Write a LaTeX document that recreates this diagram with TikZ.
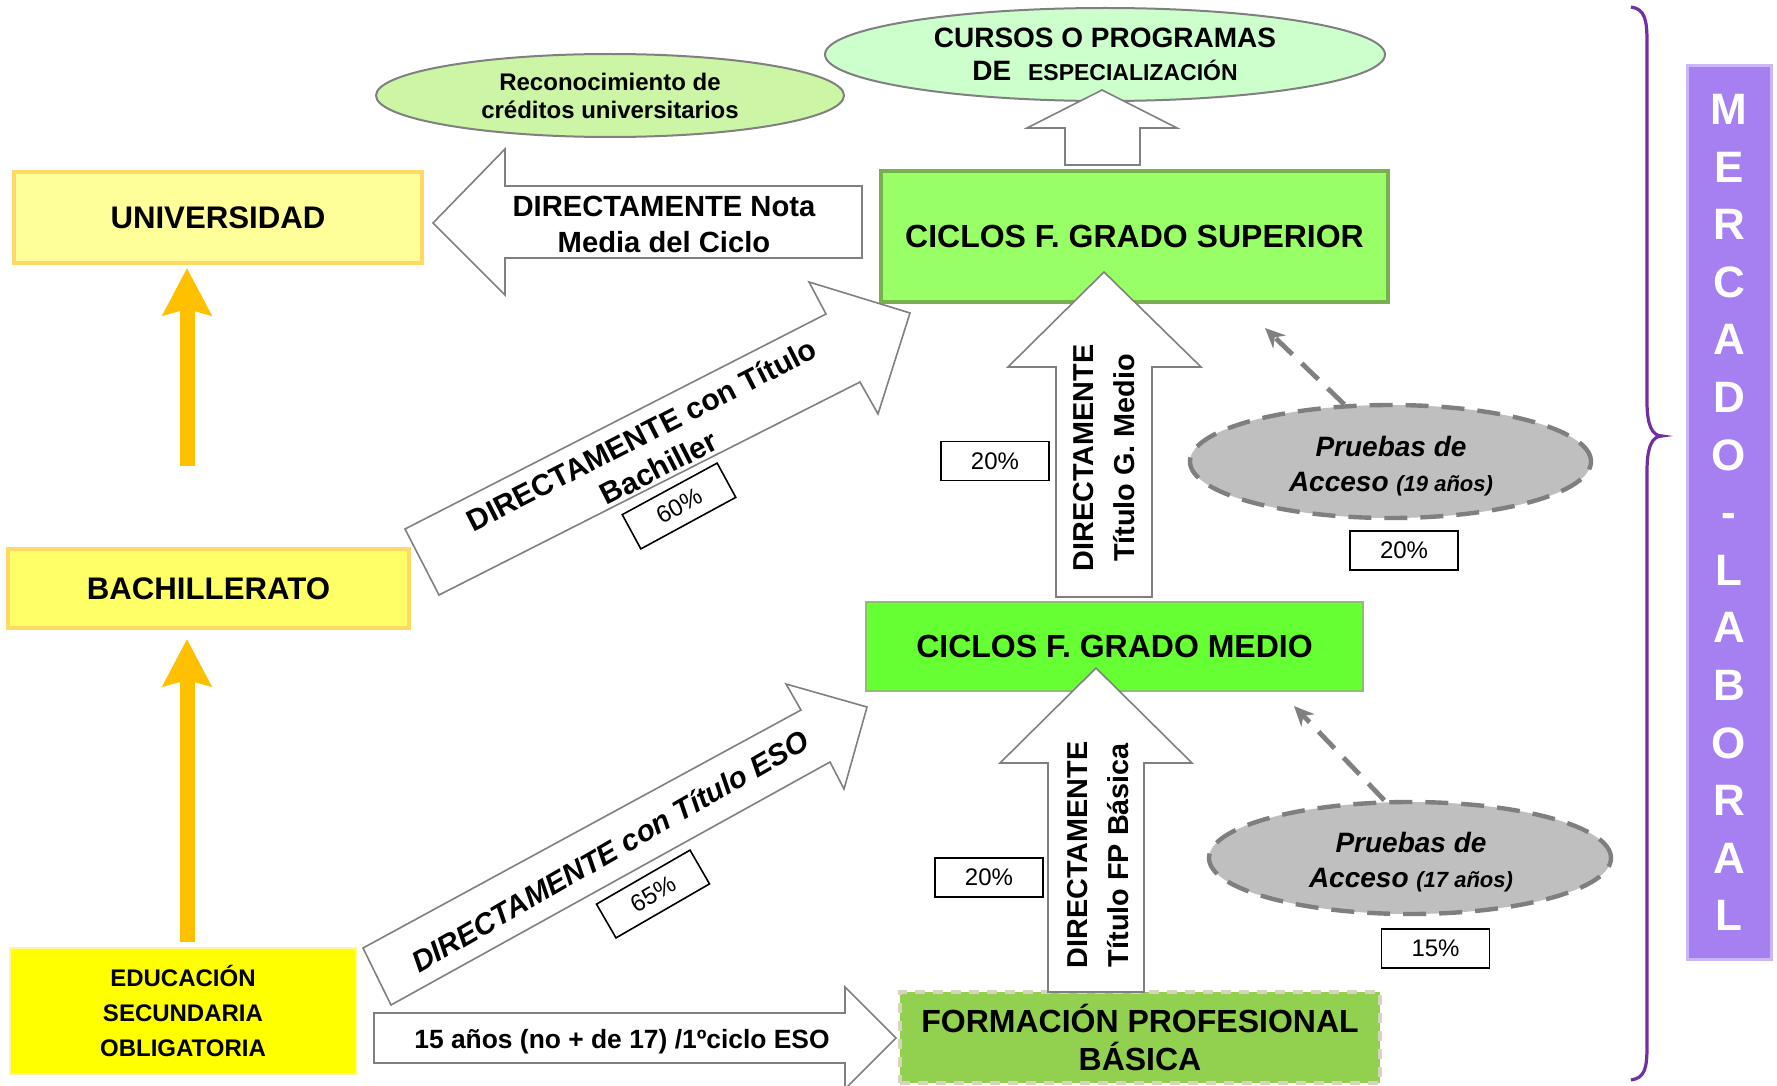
\documentclass[tikz,border=0pt]{standalone}
\usepackage{fontspec}
\setmainfont{Liberation Sans}
\usetikzlibrary{shapes.geometric,arrows.meta,calc}
\definecolor{univfill}{HTML}{FFFF99}
\definecolor{univdraw}{HTML}{FFD966}
\definecolor{bachfill}{HTML}{FFFF66}
\definecolor{esofill}{HTML}{FFFF00}
\definecolor{esodraw}{HTML}{FFF59D}
\definecolor{gsfill}{HTML}{99FF66}
\definecolor{gsdraw}{HTML}{78B04F}
\definecolor{gmfill}{HTML}{66FF33}
\definecolor{gmdraw}{HTML}{8DBF6E}
\definecolor{fpbfill}{HTML}{92D050}
\definecolor{fpbdraw}{HTML}{D9D2C0}
\definecolor{cursosfill}{HTML}{CCFFCC}
\definecolor{reconfill}{HTML}{CCF5A6}
\definecolor{pafill}{HTML}{BFBFBF}
\definecolor{padraw}{HTML}{7F7F7F}
\definecolor{arrowgray}{HTML}{808080}
\definecolor{orangeA}{HTML}{FFC000}
\definecolor{purpleB}{HTML}{7030A0}
\definecolor{mlfill}{HTML}{A67FF0}
\definecolor{mldraw}{HTML}{CBB6F6}
\begin{document}
\begin{tikzpicture}[x=0.5pt,y=-0.5pt,
  every node/.style={inner sep=0pt},
  fbox/.style={rectangle, align=center, font=\fontsize{16}{19}\selectfont\bfseries},
  ybox/.style={rectangle, align=center, font=\fontsize{15.6}{18}\selectfont\bfseries},
  oval/.style={ellipse, draw=arrowgray, line width=1pt, align=center},
  pruebas/.style={ellipse, fill=pafill, draw=padraw, line width=2.2pt, dash pattern=on 11.5pt off 6.5pt},
  ptext/.style={align=center, font=\fontsize{14}{17.5}\selectfont\bfseries\itshape},
  blockarrow/.style={fill=white, draw=arrowgray, line width=0.8pt, line join=miter},
  arrowtext/.style={align=center, font=\fontsize{14.6}{18}\selectfont\bfseries},
  vtext/.style={align=center, rotate=90, font=\fontsize{14.4}{20.5}\selectfont\bfseries},
  pct/.style={rectangle, draw=black, fill=white, line width=0.8pt, minimum width=54pt,
    minimum height=19.5pt, font=\fontsize{12}{14}\selectfont},
  dashconn/.style={draw=arrowgray, line width=2.4pt, dash pattern=on 11.5pt off 6.5pt,
    -{Stealth[length=10pt,width=9pt]}},
  orarrow/.style={draw=orangeA, line width=7.5pt, -{Stealth[length=23.5pt,width=24pt,inset=3pt]}}
]
\path[use as bounding box, fill=white] (0,0) rectangle (1777,1086);

% ---------- ellipses ----------
\node[oval, fill=cursosfill, minimum width=280pt, minimum height=46.5pt,
  font=\fontsize{14}{16.5}\selectfont\bfseries] (cursos) at (1105,54.5)
  {CURSOS O PROGRAMAS\\DE\hspace{0.6em}{\fontsize{11.5}{16.5}\selectfont ESPECIALIZACIÓN}};
\node[oval, fill=reconfill, minimum width=234pt, minimum height=41.5pt,
  font=\fontsize{12}{14}\selectfont\bfseries] (recon) at (610,95.5)
  {Reconocimiento de\\créditos universitarios};

% ---------- boxes ----------
\node[ybox, fill=univfill, draw=univdraw, line width=2pt, minimum width=204pt, minimum height=45.5pt]
  (univ) at (218,217.5) {UNIVERSIDAD};
\node[ybox, fill=bachfill, draw=univdraw, line width=2pt, minimum width=200.5pt, minimum height=39.5pt]
  (bach) at (208.5,588.5) {BACHILLERATO};
\node[rectangle, align=center, fill=esofill, draw=esodraw, line width=1.2pt, minimum width=173pt,
  minimum height=63pt, font=\fontsize{12}{17.5}\selectfont\bfseries]
  (eso) at (183,1011) {EDUCACIÓN\\SECUNDARIA\\OBLIGATORIA};
\node[fbox, fill=gsfill, draw=gsdraw, line width=2pt, minimum width=253.5pt, minimum height=65.5pt]
  (gs) at (1134.5,236.5) {CICLOS F. GRADO SUPERIOR};
\node[fbox, fill=gmfill, draw=gmdraw, line width=1.4pt, minimum width=248.5pt, minimum height=44.5pt]
  (gm) at (1114.5,646.5) {CICLOS F. GRADO MEDIO};
\node[fbox, fill=fpbfill, draw=fpbdraw, line width=2pt, dash pattern=on 5pt off 4pt,
  minimum width=240pt, minimum height=45.5pt]
  (fpb) at (1140,1037.5) {FORMACIÓN PROFESIONAL\\BÁSICA};
\node[rectangle, fill=mlfill, draw=mldraw, line width=1.5pt, minimum width=42pt, minimum height=446.5pt]
  (ml) at (1729,512.5) {};
\node[align=center, text=white, font=\fontsize{22}{28.8}\selectfont\bfseries]
  (mltext) at (ml.center) {M\\E\\R\\C\\A\\D\\O\\-\\L\\A\\B\\O\\R\\A\\L};

% ---------- block arrows ----------
\draw[blockarrow] (1065,165) -- (1065,128) -- (1027,128) -- (1102,90) -- (1177,128) -- (1140,128) -- (1140,165) -- cycle;
\draw[blockarrow] (1056,597) -- (1056,367) -- (1008,367) -- (1104,272) -- (1201,367) -- (1152,367) -- (1152,597) -- cycle;
\draw[blockarrow] (1048,992) -- (1048,763) -- (1000,763) -- (1096,668) -- (1192,763) -- (1144,763) -- (1144,992) -- cycle;
\draw[blockarrow] (862,186) -- (505,186) -- (505,149) -- (433,223) -- (505,295) -- (505,258) -- (862,258) -- cycle;
\draw[blockarrow] (405,529) -- (826,314) -- (809,282) -- (910,313) -- (878,414) -- (860,382) -- (439,595) -- cycle;
\draw[blockarrow] (363,948) -- (801,710) -- (786,684) -- (867,707) -- (844,789) -- (830,762) -- (391,1005) -- cycle;
\draw[blockarrow] (374,1013) -- (845,1013) -- (845,987) -- (896,1038) -- (845,1089) -- (845,1063) -- (374,1063) -- cycle;

% ---------- arrow labels ----------
\node[arrowtext] (tnota) at (664,224) {DIRECTAMENTE Nota\\Media del Ciclo};
\node[vtext] (tgm) at (1104,458) {DIRECTAMENTE\\Título G. Medio};
\node[vtext] (tfpb) at (1098,855) {DIRECTAMENTE\\Título FP Básica};
\node[align=center, rotate=27, font=\fontsize{15}{18.5}\selectfont\bfseries]
  (tbach) at (650,451) {DIRECTAMENTE con Título\\Bachiller};
\node[rotate=30, font=\fontsize{14.8}{17}\selectfont\bfseries\itshape]
  (teso) at (610,851) {DIRECTAMENTE con Título ESO};
\node[font=\fontsize{13.2}{16}\selectfont\bfseries] (t15) at (622,1042) {15 años (no + de 17) /1ºciclo ESO};

% ---------- pruebas de acceso ----------
\node[pruebas, minimum width=200.5pt, minimum height=56.5pt] (pa19) at (1390.5,461.5) {};
\node[ptext] (pa19t) at (1391,466) {Pruebas de\\Acceso {\fontsize{11}{17.5}\selectfont(19 años)}};
\node[pruebas, minimum width=201pt, minimum height=56pt] (pa17) at (1410,858) {};
\node[ptext] (pa17t) at (1411,862) {Pruebas de\\Acceso {\fontsize{11}{17.5}\selectfont(17 años)}};
\coordinate (gsentry) at (1265,328);
\coordinate (gmentry) at (1294,706);
\draw[dashconn] (pa19.129) -- (gsentry);
\draw[dashconn] (pa17.114) -- (gmentry);

% ---------- percentages ----------
\node[pct] (p1) at (995,461) {20\%};
\node[pct] (p2) at (1404,550.5) {20\%};
\node[pct] (p3) at (989,877.5) {20\%};
\node[pct] (p4) at (1435.5,948.5) {15\%};
\node[pct, rotate=28.5] (p60) at (679,506) {60\%};
\node[pct, rotate=30] (p65) at (653,894) {65\%};

% ---------- orange arrows ----------
\coordinate (ocol) at (187,0);
\draw[orarrow] ($(eso.north -| ocol)+(0,-5)$) -- ($(bach.south -| ocol)+(0,9)$);
\draw[orarrow] ($(bach.north -| ocol)+(0,-81)$) -- ($(univ.south -| ocol)+(0,3)$);

% ---------- brace ----------
\draw[purpleB, line width=1.6pt] (1631,7) .. controls (1645,9) and (1647,20) .. (1647,42)
  -- (1647,402) .. controls (1647,425) and (1652,436) .. (1662,436)
  .. controls (1652,436) and (1647,447) .. (1647,471)
  -- (1647,1046) .. controls (1647,1068) and (1645,1078) .. (1631,1080);
\end{tikzpicture}
\end{document}
